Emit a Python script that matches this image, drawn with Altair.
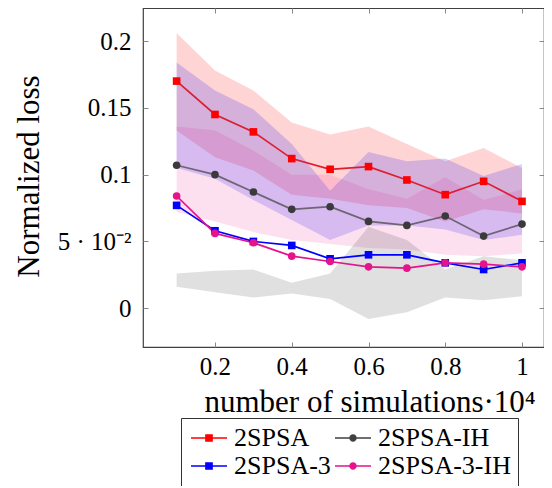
import altair as alt
import pandas as pd

# ---------------- data ----------------
x_sims = [0.1, 0.2, 0.3, 0.4, 0.5, 0.6, 0.7, 0.8, 0.9, 1.0]
series_names = ["2SPSA", "2SPSA-IH", "2SPSA-3", "2SPSA-3-IH"]
legend_order = ["2SPSA", "2SPSA-3", "2SPSA-IH", "2SPSA-3-IH"]

loss_2spsa = [0.170, 0.145, 0.132, 0.112, 0.104, 0.106, 0.096, 0.085, 0.095, 0.080]
loss_2spsa_ih = [0.107, 0.100, 0.087, 0.074, 0.076, 0.065, 0.062, 0.069, 0.054, 0.063]
loss_2spsa_3 = [0.077, 0.058, 0.050, 0.047, 0.037, 0.040, 0.040, 0.034, 0.029, 0.034]
loss_2spsa_3_ih = [0.084, 0.056, 0.049, 0.039, 0.035, 0.031, 0.030, 0.034, 0.033, 0.031]

band_red_hi = [0.206, 0.178, 0.163, 0.139, 0.130, 0.136, 0.123, 0.110, 0.120, 0.105]
band_red_lo = [0.133, 0.113, 0.103, 0.085, 0.082, 0.077, 0.075, 0.065, 0.074, 0.071]
band_blue_hi = [0.184, 0.163, 0.149, 0.123, 0.088, 0.117, 0.110, 0.112, 0.099, 0.108]
band_blue_lo = [0.105, 0.097, 0.081, 0.066, 0.051, 0.062, 0.062, 0.059, 0.051, 0.055]
band_pink_hi = [0.136, 0.133, 0.118, 0.100, 0.100, 0.089, 0.082, 0.098, 0.081, 0.089]
band_pink_lo = [0.072, 0.065, 0.057, 0.051, 0.048, 0.045, 0.044, 0.040, 0.039, 0.041]
band_gray_hi = [0.026, 0.028, 0.029, 0.019, 0.026, 0.061, 0.051, 0.029, 0.039, 0.036]
band_gray_lo = [0.016, 0.012, 0.008, 0.011, 0.007, -0.008, -0.003, 0.008, 0.006, 0.009]

x_ticks = [0.2, 0.4, 0.6, 0.8, 1.0]
y_ticks = [0, 0.05, 0.1, 0.15, 0.2]

# ---------------- styling ----------------
FONT = "Liberation Serif"
W, H = 401, 339
X_DOM = [0.0124, 1.0573]
Y_DOM = [-0.029, 0.2247]

line_colors = {"2SPSA": "#dc1e32", "2SPSA-IH": "#404040", "2SPSA-3": "#0000ff", "2SPSA-3-IH": "#e6138c"}
line_opac = {"2SPSA": 1.0, "2SPSA-IH": 0.7, "2SPSA-3": 1.0, "2SPSA-3-IH": 1.0}
mark_colors = {"2SPSA": "#ff0000", "2SPSA-IH": "#3a3a3a", "2SPSA-3": "#0000ff", "2SPSA-3-IH": "#e6138c"}
mark_shapes = {"2SPSA": "square", "2SPSA-IH": "circle", "2SPSA-3": "square", "2SPSA-3-IH": "circle"}

# legend glyphs: short line with a marker (unit = 10 px)
SQ_PATH = "M-1.8,-0.075H1.8V0.075H-1.8ZM-0.385,-0.385H0.385V0.385H-0.385Z"
CI_PATH = "M-1.8,-0.075H1.8V0.075H-1.8ZM-0.37,0A0.37,0.37 0 1,1 0.37,0A0.37,0.37 0 1,1 -0.37,0Z"
legend_shape_of = {"2SPSA": SQ_PATH, "2SPSA-IH": CI_PATH, "2SPSA-3": SQ_PATH, "2SPSA-3-IH": CI_PATH}
legend_color_of = {"2SPSA": "#ff0000", "2SPSA-IH": "#404040", "2SPSA-3": "#0000ff", "2SPSA-3-IH": "#e6138c"}

series_values = {
    "2SPSA": loss_2spsa,
    "2SPSA-IH": loss_2spsa_ih,
    "2SPSA-3": loss_2spsa_3,
    "2SPSA-3-IH": loss_2spsa_3_ih,
}
lines_df = pd.DataFrame(
    [{"x": x, "loss": v, "series": s} for s in series_names for x, v in zip(x_sims, series_values[s])]
)

bands = [
    ("red", band_red_lo, band_red_hi, "#ff0000", 0.17),
    ("blue", band_blue_lo, band_blue_hi, "#0000ff", 0.17),
    ("pink", band_pink_lo, band_pink_hi, "#e6138c", 0.13),
    ("gray", band_gray_lo, band_gray_hi, "#000000", 0.12),
]

x_scale = alt.Scale(domain=X_DOM, nice=False, zero=False)
y_scale = alt.Scale(domain=Y_DOM, nice=False, zero=False)

x_axis_bottom = alt.Axis(
    orient="bottom", values=x_ticks, offset=-5, tickSize=5, tickColor="#888888", domain=False,
    grid=False, format="~g", labelFont=FONT, labelFontSize=25, labelPadding=7, labelColor="black",
    title="number of simulations·10⁴", titleFont=FONT, titleFontSize=31, titleFontWeight="normal",
    titleColor="black", titleX=61, titleY=69, titleAlign="left", titleBaseline="alphabetic",
)
x_axis_top = alt.Axis(
    orient="top", values=x_ticks, offset=-5, tickSize=5, tickColor="#888888", domain=False,
    grid=False, labels=False, title=None,
)
y_axis_left = alt.Axis(
    orient="left", values=y_ticks, offset=-5, tickSize=5, tickColor="#888888", domain=False,
    grid=False, labelFont=FONT, labelFontSize=25, labelPadding=12, labelColor="black",
    labelExpr="abs(datum.value - 0.05) < 1e-9 ? '5 · 10⁻²' : format(datum.value, '~g')",
    title="Normalized loss", titleFont=FONT, titleFontSize=31, titleFontWeight="normal",
    titleColor="black", titleX=-110, titleY=168, titleBaseline="alphabetic",
)
y_axis_right = alt.Axis(
    orient="right", values=y_ticks, offset=-5, tickSize=5, tickColor="#888888", domain=False,
    grid=False, labels=False, title=None,
)

layers = []
for i, (name, lo, hi, col, op) in enumerate(bands):
    bdf = pd.DataFrame({"x": x_sims, "lo": lo, "hi": hi})
    layers.append(
        alt.Chart(bdf).mark_area(color=col, opacity=op, clip=True).encode(
            x=alt.X("x:Q", scale=x_scale, axis=x_axis_bottom if i == 0 else None),
            y=alt.Y("lo:Q", scale=y_scale, axis=y_axis_left if i == 0 else None),
            y2="hi:Q",
        )
    )

for s in series_names:
    sdf = lines_df[lines_df["series"] == s]
    layers.append(
        alt.Chart(sdf).mark_line(color=line_colors[s], strokeWidth=1.7, opacity=line_opac[s], clip=True).encode(
            x=alt.X("x:Q", scale=x_scale, axis=None),
            y=alt.Y("loss:Q", scale=y_scale, axis=None),
        )
    )
for s in series_names:
    sdf = lines_df[lines_df["series"] == s]
    layers.append(
        alt.Chart(sdf).mark_point(
            shape=mark_shapes[s], filled=True, size=58, color=mark_colors[s], opacity=1, clip=True
        ).encode(
            x=alt.X("x:Q", scale=x_scale, axis=None),
            y=alt.Y("loss:Q", scale=y_scale, axis=None),
        )
    )

# top / right mirrored inward ticks
layers.append(
    alt.Chart(lines_df).mark_point(opacity=0).encode(
        x=alt.X("x:Q", scale=x_scale, axis=x_axis_top),
        y=alt.Y("loss:Q", scale=y_scale, axis=y_axis_right),
    )
)

# legend carrier layer (no marks drawn)
layers.append(
    alt.Chart(lines_df).transform_filter("false").mark_point(filled=True, size=400, opacity=1).encode(
        x=alt.X("x:Q", scale=x_scale, axis=None),
        y=alt.Y("loss:Q", scale=y_scale, axis=None),
        color=alt.Color(
            "series:N",
            scale=alt.Scale(domain=legend_order, range=[legend_color_of[s] for s in legend_order]),
            legend=alt.Legend(
                orient="none", legendX=38, legendY=410, columns=2, title=None,
                strokeColor="#333333", fillColor="white", padding=7, rowPadding=2,
                columnPadding=1, symbolOffset=8, labelOffset=12, labelFont=FONT, labelFontSize=26,
                labelColor="black", symbolStrokeWidth=0, symbolOpacity=1, symbolSize=400,
            ),
        ),
        shape=alt.Shape(
            "series:N",
            scale=alt.Scale(domain=legend_order, range=[legend_shape_of[s] for s in legend_order]),
        ),
    )
)

chart = (
    alt.layer(*layers)
    .resolve_axis(x="independent", y="independent")
    .properties(
        width=W, height=H,
        autosize=alt.AutoSizeParams(type="none"),
        padding={"left": 135, "top": 0, "right": 0, "bottom": 139},
        background="white",
    )
    .configure_view(stroke="#404040", strokeWidth=1.2)
)

chart.save("out.html", embed_options={"renderer": "svg", "actions": False})
